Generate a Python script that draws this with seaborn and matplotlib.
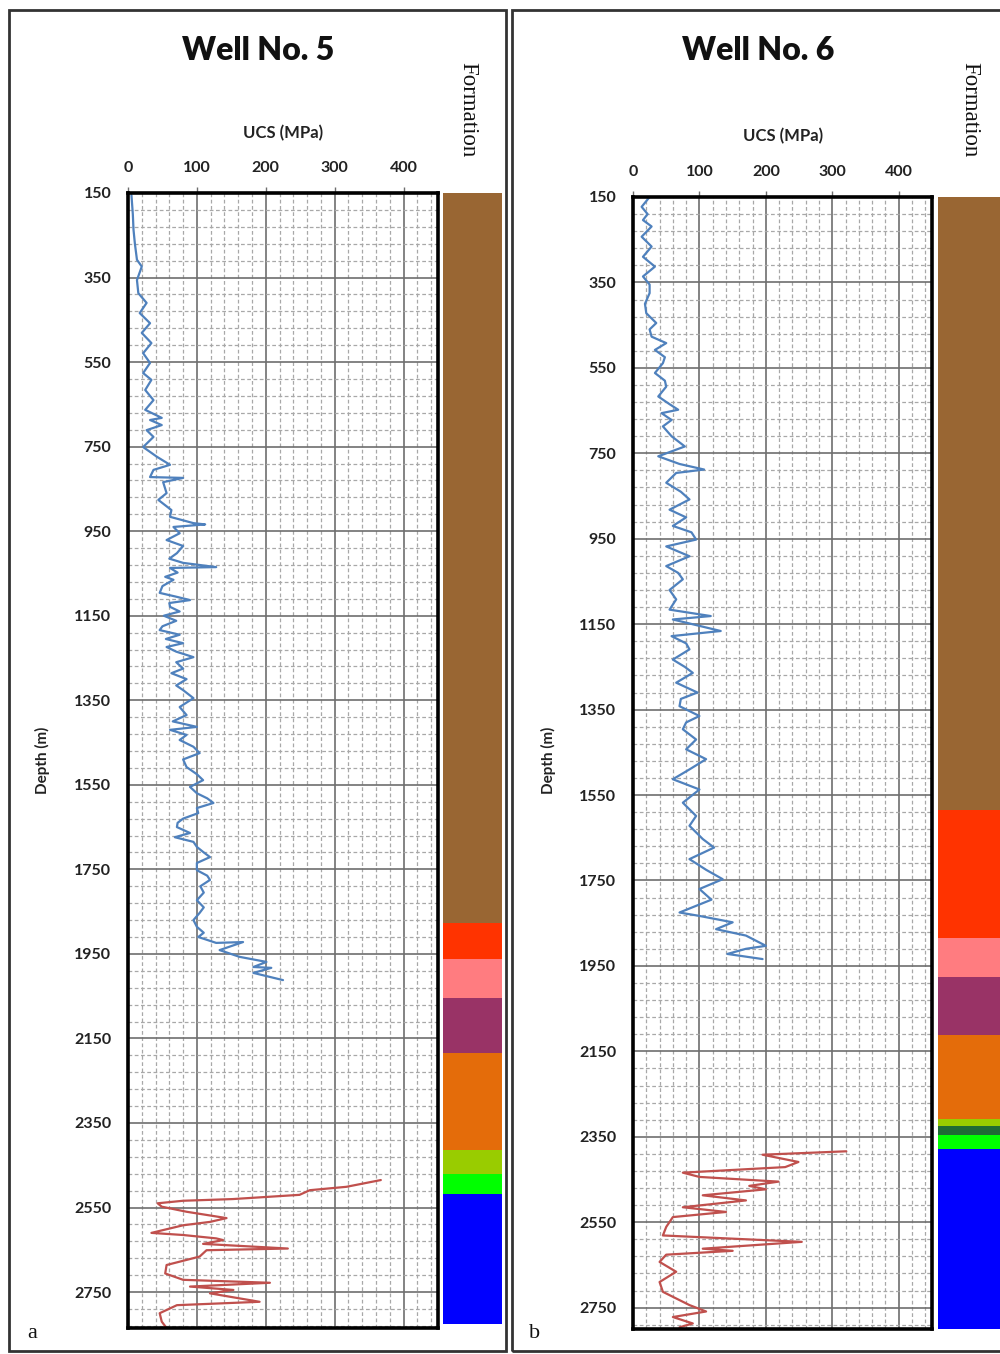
import numpy as np
import pandas as pd
import seaborn as sns
import matplotlib.pyplot as plt
from matplotlib.patches import Rectangle
from matplotlib.ticker import MultipleLocator, FixedLocator

# ---------------- Well No. 5 : UCS logs ----------------
w5_upper_depth = [155, 200, 237, 270, 308, 324, 356, 387, 410, 434, 458, 481, 505, 529, 552,
                  576, 592, 616, 640, 663, 682, 687, 699, 711, 727, 751, 774, 793, 805, 822,
                  824, 834, 860, 876, 900, 916, 931, 934, 940, 955, 971, 985, 1002, 1015,
                  1025, 1035, 1037, 1048, 1058, 1065, 1080, 1096, 1105, 1113, 1120, 1129,
                  1140, 1150, 1162, 1175, 1184, 1195, 1205, 1215, 1224, 1235, 1248, 1260,
                  1275, 1286, 1300, 1315, 1326, 1345, 1366, 1385, 1400, 1413, 1420, 1432,
                  1444, 1460, 1475, 1490, 1508, 1525, 1539, 1555, 1570, 1582, 1593, 1605,
                  1617, 1630, 1640, 1650, 1664, 1674, 1685, 1697, 1710, 1721, 1735, 1752,
                  1765, 1775, 1790, 1805, 1823, 1840, 1853, 1870, 1886, 1900, 1910, 1924,
                  1922, 1941, 1957, 1969, 1981, 1983, 1995, 2012]
w5_upper_ucs = [5, 7, 8, 10, 13, 20, 13, 15, 27, 17, 32, 20, 34, 22, 32,
                22, 34, 25, 37, 25, 49, 32, 49, 27, 37, 22, 42, 61, 37, 32,
                80, 51, 56, 44, 63, 61, 95, 112, 66, 75, 56, 80, 71, 60,
                80, 128, 61, 72, 54, 66, 50, 46, 70, 90, 60, 61,
                75, 52, 70, 50, 46, 75, 55, 80, 56, 70, 95, 70,
                80, 63, 85, 70, 80, 95, 75, 85, 65, 100, 61, 85,
                75, 95, 104, 80, 85, 100, 109, 90, 100, 115, 124, 100,
                102, 80, 72, 71, 90, 68, 95, 100, 110, 119, 100, 100,
                115, 119, 105, 110, 100, 110, 104, 95, 100, 110, 102, 128,
                167, 133, 162, 201, 182, 208, 182, 225]

w5_lower_depth = [2485, 2501, 2509, 2520, 2530, 2534, 2540, 2548, 2560, 2575, 2584, 2592,
                  2610, 2615, 2623, 2627, 2636, 2647, 2651, 2666, 2686, 2706, 2721, 2728,
                  2737, 2745, 2753, 2773, 2781, 2800, 2820, 2835]
w5_lower_ucs = [367, 317, 264, 249, 152, 80, 43, 49, 85, 143, 119, 80,
                34, 80, 128, 138, 109, 232, 114, 104, 56, 54, 80, 206,
                90, 153, 119, 191, 71, 46, 49, 56]

# ---------------- Well No. 6 : UCS logs ----------------
w6_upper_depth = [150, 173, 190, 204, 219, 243, 266, 290, 313, 336, 355, 375, 400, 422, 445,
                  460, 477, 492, 508, 525, 539, 562, 580, 594, 617, 635, 648, 656, 672, 687,
                  710, 734, 757, 775, 788, 796, 819, 840, 858, 882, 900, 920, 935, 952, 968,
                  991, 1014, 1030, 1045, 1070, 1092, 1116, 1131, 1139, 1166, 1178, 1195,
                  1209, 1233, 1250, 1264, 1287, 1310, 1325, 1342, 1365, 1380, 1396, 1420,
                  1443, 1466, 1490, 1513, 1537, 1568, 1599, 1622, 1653, 1673, 1700, 1725,
                  1747, 1770, 1795, 1825, 1833, 1848, 1864, 1879, 1895, 1903, 1910, 1922,
                  1934]
w6_upper_ucs = [25, 13, 22, 15, 28, 13, 28, 15, 33, 15, 25, 25, 18, 20, 35,
                25, 28, 50, 33, 48, 45, 33, 48, 50, 38, 55, 68, 43, 58, 45,
                58, 78, 38, 70, 107, 65, 50, 72, 85, 55, 80, 60, 88, 95, 50,
                85, 50, 68, 75, 55, 65, 55, 117, 60, 132, 58, 80,
                85, 60, 78, 90, 65, 97, 72, 70, 100, 80, 75, 95,
                80, 110, 85, 60, 100, 75, 95, 85, 105, 122, 85, 110,
                135, 100, 118, 70, 100, 150, 125, 170, 190, 200, 170, 142,
                195]

w6_lower_depth = [2384, 2392, 2409, 2421, 2434, 2444, 2455, 2465, 2473, 2487, 2499, 2515,
                  2526, 2538, 2561, 2581, 2596, 2612, 2617, 2626, 2643, 2666, 2690, 2713,
                  2744, 2759, 2772, 2787, 2796]
w6_lower_ucs = [321, 195, 249, 229, 75, 100, 219, 175, 200, 105, 170, 75,
                140, 60, 50, 45, 254, 105, 150, 50, 40, 65, 40, 45,
                85, 110, 60, 90, 70]

# ---------------- Formation columns ----------------
w5_form_tops = [150, 1876, 1962, 2054, 2184, 2414, 2471, 2518]
w5_form_base = 2826
w5_form_colors = ["#996633", "#FF3300", "#FF7C80", "#993366", "#E46C0A",
                  "#99CC00", "#00FF00", "#0000FF"]

w6_form_tops = [150, 1586, 1885, 1977, 2112, 2308, 2324, 2347, 2378]
w6_form_base = 2804
w6_form_colors = ["#996633", "#FF3300", "#FF7C80", "#993366", "#E46C0A",
                  "#99CC00", "#1F6B35", "#00FF00", "#0000FF"]

ucs_ticks = [0, 100, 200, 300, 400]
depth_ticks = [150, 350, 550, 750, 950, 1150, 1350, 1550, 1750, 1950,
               2150, 2350, 2550, 2750]

BLUE = "#4F81BD"
RED = "#C0504D"

sns.set_theme(style="white")
plt.rcParams["font.family"] = ["Lato", "DejaVu Sans"]

W, H = 1000, 1354
fig = plt.figure(figsize=(W / 100, H / 100), dpi=100)


def fx(px):
    return px / W


def fy(py):
    return 1 - py / H


def log_panel(x0, x1, y0, y1, ymax, bar_x0, bar_x1, upper, lower, tops, base, colors):
    ax = fig.add_axes([fx(x0), fy(y1), fx(x1 - x0), fy(y0) - fy(y1)])
    up = pd.DataFrame({"UCS": upper[1], "Depth": upper[0]})
    lo = pd.DataFrame({"UCS": lower[1], "Depth": lower[0]})
    sns.lineplot(data=up, x="UCS", y="Depth", sort=False, estimator=None,
                 color=BLUE, lw=1.6, ax=ax)
    sns.lineplot(data=lo, x="UCS", y="Depth", sort=False, estimator=None,
                 color=RED, lw=1.6, ax=ax)
    ax.set_xlim(0, 450)
    ax.set_ylim(ymax, 150)
    ax.xaxis.set_major_locator(FixedLocator(ucs_ticks))
    ax.xaxis.set_minor_locator(MultipleLocator(20))
    ax.yaxis.set_major_locator(FixedLocator(depth_ticks))
    ax.yaxis.set_minor_locator(FixedLocator(np.arange(150, ymax, 40)))
    ax.grid(which="major", color="#6E6E6E", lw=1.2, ls="-")
    ax.grid(which="minor", color="#A8A8A8", lw=0.9, ls=(0, (3, 2)))
    ax.set_axisbelow(True)
    ax.xaxis.tick_top()
    ax.tick_params(axis="both", which="major", length=4, width=1, color="#6E6E6E",
                   labelsize=11.5, direction="out")
    ax.tick_params(axis="x", which="major", pad=9)
    ax.tick_params(axis="y", which="major", pad=8)
    ax.tick_params(which="minor", length=0)
    for lab in ax.get_xticklabels() + ax.get_yticklabels():
        lab.set_fontweight("bold")
        lab.set_color("#222222")
    ax.set_xlabel("")
    ax.set_ylabel("")
    for sp in ax.spines.values():
        sp.set_color("black")
        sp.set_linewidth(2.6)

    bax = fig.add_axes([fx(bar_x0), fy(y1), fx(bar_x1 - bar_x0), fy(y0) - fy(y1)], sharey=ax)
    bottoms = list(tops)
    heights = [b - t for t, b in zip(tops, list(tops[1:]) + [base])]
    bax.bar([0] * len(tops), heights, bottom=bottoms, width=1.0, color=colors,
            edgecolor="none")
    bax.set_xlim(-0.5, 0.5)
    bax.set_ylim(ymax, 150)
    bax.axis("off")
    return ax


log_panel(128, 438, 193, 1328, 2835, 443, 502,
          (w5_upper_depth, w5_upper_ucs), (w5_lower_depth, w5_lower_ucs),
          w5_form_tops, w5_form_base, w5_form_colors)
log_panel(633, 932, 197, 1329, 2800, 938, 1000,
          (w6_upper_depth, w6_upper_ucs), (w6_lower_depth, w6_lower_ucs),
          w6_form_tops, w6_form_base, w6_form_colors)

# panel frames
for (x0, x1) in [(9, 506), (512, 1003)]:
    fig.patches.append(Rectangle((fx(x0), fy(1351)), fx(x1 - x0), fy(10) - fy(1351),
                                 transform=fig.transFigure, fill=False,
                                 edgecolor="#333333", lw=2.0))

# titles and labels
serif = ["Liberation Serif", "DejaVu Serif"]
for cx, tag, label, lx, fxp, ucsy in [(258, "Well No. 5", "a", 32, 468, 133),
                                      (758, "Well No. 6", "b", 535, 970, 136)]:
    fig.text(fx(cx), fy(50), tag, ha="center", va="center", fontsize=23,
             fontweight="heavy", color="#111111")
    fig.text(fx(cx + 25), fy(ucsy), "UCS (MPa)", ha="center", va="center",
             fontsize=12, fontweight="bold", color="#222222")
    fig.text(fx(lx), fy(1333), label, ha="center", va="center", fontsize=16,
             family=serif, color="#111111")
    fig.text(fx(fxp), fy(110), "Formation", ha="center", va="center", fontsize=16.5,
             rotation=270, family=serif, color="#111111")

fig.text(fx(42), fy(760), "Depth (m)", ha="center", va="center", fontsize=11,
         fontweight="bold", rotation=90, color="#222222")
fig.text(fx(548), fy(760), "Depth (m)", ha="center", va="center", fontsize=11,
         fontweight="bold", rotation=90, color="#222222")

fig.savefig("out.png", dpi=100)
